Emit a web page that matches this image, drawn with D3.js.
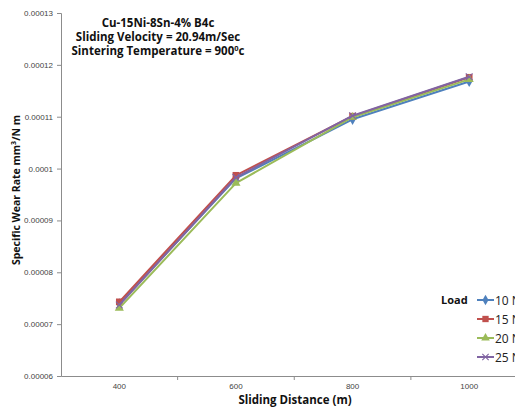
<!DOCTYPE html>
<html><head><meta charset="utf-8">
<script src="https://cdn.jsdelivr.net/npm/d3@7"></script>
<style>
html,body{margin:0;padding:0;background:#fff;overflow:hidden;}
svg{display:block;font-family:"Open Sans","Liberation Sans",sans-serif;}
</style></head><body>
<svg id="chart" width="515" height="407"></svg>
<script>
const categories = ["400", "600", "800", "1000"];
const seriesNames = ["10 N", "15 N", "20 N", "25 N"];
const load10 = [0.0000739, 0.0000981, 0.0001095, 0.0001168];
const load15 = [0.0000743, 0.0000987, 0.0001101, 0.0001176];
const load20 = [0.0000731, 0.0000972, 0.0001099, 0.0001172];
const load25 = [0.0000737, 0.0000983, 0.0001102, 0.0001177];
const yTicks = [0.00006, 0.00007, 0.00008, 0.00009, 0.0001, 0.00011, 0.00012, 0.00013];
const titleLines = ["Cu-15Ni-8Sn-4% B4c", "Sliding Velocity = 20.94m/Sec", "Sintering Temperature = 900"];
const colors = ["#4F81BD", "#C0504D", "#9BBB59", "#8064A2"];
const markers = ["diamond", "square", "triangle", "x"];

const series = [load10, load15, load20, load25].map((v, i) => ({name: seriesNames[i], values: v, color: colors[i], marker: markers[i]}));

const svg = d3.select("#chart");
const x = d3.scaleBand().domain(categories).range([61, 527.5]).padding(0);
const y = d3.scaleLinear().domain([0.00006, 0.00013]).range([376, 13]);
const axisColor = "#8c8c8c";
const fmt = d => d.toFixed(5).replace(/0+$/, "");

// Y axis
const ya = svg.append("g").attr("transform", "translate(61,0)")
  .call(d3.axisLeft(y).tickValues(yTicks).tickFormat(fmt).tickSize(4).tickPadding(4));
ya.select(".domain").attr("stroke", axisColor);
ya.selectAll(".tick line").attr("stroke", axisColor);
ya.selectAll(".tick text").attr("font-size", 8).attr("fill", "#444");

// X axis
const xa = svg.append("g").attr("transform", "translate(0,376)")
  .call(d3.axisBottom(x).tickSize(0).tickPadding(7));
xa.select(".domain").attr("stroke", axisColor);
xa.selectAll(".tick text").attr("font-size", 8).attr("fill", "#444");
svg.append("g").selectAll("line")
  .data(categories.slice(1).map(c => x(c)).concat([x.range()[1]]))
  .join("line")
  .attr("x1", d => d).attr("x2", d => d).attr("y1", 376).attr("y2", 380)
  .attr("stroke", axisColor);

// Lines
const line = d3.line().x((d, i) => x(categories[i]) + x.bandwidth() / 2).y(d => y(d));
function drawMarker(g, type, color, size) {
  if (type === "diamond") {
    g.append("path").attr("d", d3.symbol().type(d3.symbolDiamond).size(size * 4)()).attr("fill", color);
  } else if (type === "square") {
    g.append("path").attr("d", d3.symbol().type(d3.symbolSquare).size(size * 5)()).attr("fill", color);
  } else if (type === "triangle") {
    g.append("path").attr("d", d3.symbol().type(d3.symbolTriangle).size(size * 4)()).attr("fill", color);
  } else {
    g.append("path").attr("d", d3.symbol().type(d3.symbolTimes).size(size * 3.5)()).attr("fill", "none").attr("stroke", color).attr("stroke-width", 1.1);
  }
}
series.forEach(s => {
  svg.append("path").datum(s.values).attr("d", line)
    .attr("fill", "none").attr("stroke", s.color).attr("stroke-width", 2).attr("stroke-linejoin", "round");
  s.values.forEach((v, i) => {
    const g = svg.append("g").attr("transform", `translate(${x(categories[i]) + x.bandwidth() / 2},${y(v)})`);
    drawMarker(g, s.marker, s.color, 9);
  });
});

// Title
const title = svg.append("text").attr("x", 158).attr("font-size", 11.5).attr("font-weight", "bold")
  .attr("text-anchor", "middle").attr("fill", "#111");
titleLines.forEach((t, i) => {
  const ts = title.append("tspan").attr("x", 158).attr("y", 27 + i * 14).text(t);
  if (i === 2) {
    ts.append("tspan").attr("dy", -4).attr("font-size", 7.5).text("0");
    ts.append("tspan").attr("dy", 4).text("c");
  }
});

// Y label
const yl = svg.append("text").attr("transform", "translate(20,190) rotate(-90)")
  .attr("text-anchor", "middle").attr("font-size", 10.5).attr("font-weight", "bold").attr("fill", "#111");
yl.append("tspan").text("Specific Wear Rate mm");
yl.append("tspan").attr("dy", -4).attr("font-size", 7).text("3");
yl.append("tspan").attr("dy", 4).text("/N m");

// X label
svg.append("text").attr("x", 295).attr("y", 404).attr("text-anchor", "middle")
  .attr("font-size", 11.5).attr("font-weight", "bold").attr("fill", "#111").text("Sliding Distance (m)");

// Legend
svg.append("text").attr("x", 441).attr("y", 304).attr("font-size", 11).attr("font-weight", "bold").attr("fill", "#111").text("Load");
series.forEach((s, i) => {
  const ly = 300 + i * 19;
  const g = svg.append("g");
  g.append("line").attr("x1", 477).attr("x2", 494).attr("y1", ly).attr("y2", ly).attr("stroke", s.color).attr("stroke-width", 2);
  const mg = g.append("g").attr("transform", `translate(485.5,${ly})`);
  drawMarker(mg, s.marker, s.color, 8);
  g.append("text").attr("x", 495).attr("y", ly + 4.5).attr("font-size", 12).attr("fill", "#222").text(s.name);
});
</script>
</body></html>
